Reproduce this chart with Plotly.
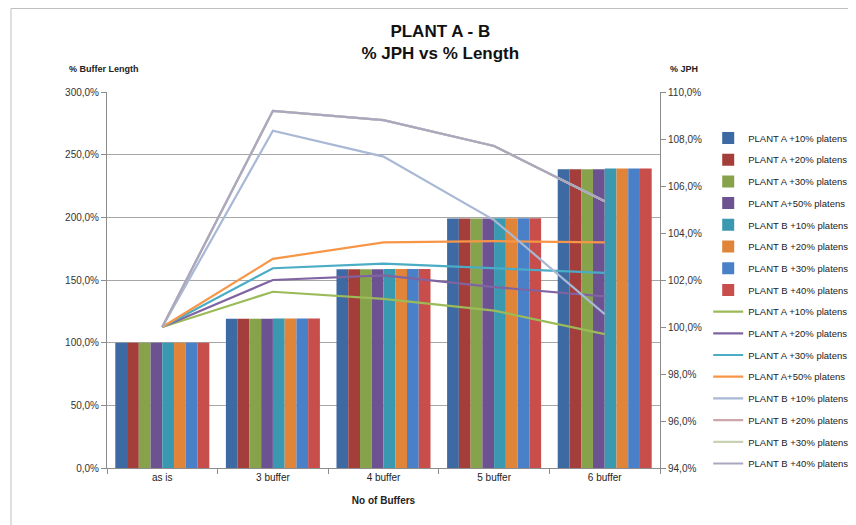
import plotly.graph_objects as go

categories = ["as is", "3 buffer", "4 buffer", "5 buffer", "6 buffer"]

bar_names = ["PLANT A +10% platens", "PLANT A +20% platens", "PLANT A +30% platens",
             "PLANT A+50% platens", "PLANT B +10% platens", "PLANT B +20% platens",
             "PLANT B +30% platens", "PLANT B +40% platens"]
bar_colors = ["#3D6AA2", "#A33E3B", "#86A34B", "#6C5290", "#3A98B0", "#E0843A", "#4A80C8", "#C84E4C"]
bar_plant_a = [100.0, 119.0, 158.5, 199.0, 238.3]
bar_plant_b = [100.0, 119.3, 158.8, 199.3, 239.0]

line_names = ["PLANT A +10% platens", "PLANT A +20% platens", "PLANT A +30% platens",
              "PLANT A+50% platens", "PLANT B +10% platens", "PLANT B +20% platens",
              "PLANT B +30% platens", "PLANT B +40% platens"]
line_colors = ["#9BBB59", "#8064A2", "#4BACC6", "#F79646", "#A8B8D5", "#CDA6AC", "#C8D2B2", "#AAA8C0"]
jph_a10 = [100.0, 101.5, 101.2, 100.7, 99.7]
jph_a20 = [100.0, 102.0, 102.2, 101.7, 101.3]
jph_a30 = [100.0, 102.5, 102.7, 102.5, 102.3]
jph_a50 = [100.0, 102.9, 103.6, 103.65, 103.6]
jph_b10 = [100.0, 108.35, 107.25, 104.55, 100.55]
jph_b20 = [100.0, 109.2, 108.8, 107.7, 105.35]
jph_b30 = [100.0, 109.2, 108.8, 107.7, 105.35]
jph_b40 = [100.0, 109.2, 108.8, 107.7, 105.35]
line_values = [jph_a10, jph_a20, jph_a30, jph_a50, jph_b10, jph_b20, jph_b30, jph_b40]

left_ticks = [0, 50, 100, 150, 200, 250, 300]
left_labels = ["0,0%", "50,0%", "100,0%", "150,0%", "200,0%", "250,0%", "300,0%"]
right_ticks = [94, 96, 98, 100, 102, 104, 106, 108, 110]
right_labels = ["94,0%", "96,0%", "98,0%", "100,0%", "102,0%", "104,0%", "106,0%", "108,0%", "110,0%"]

FONT = "Liberation Sans"
fig = go.Figure()

for i, (name, col) in enumerate(zip(bar_names, bar_colors)):
    vals = bar_plant_a if i < 4 else bar_plant_b
    fig.add_trace(go.Bar(x=categories, y=vals, name=name, marker=dict(color=col, line=dict(width=0)),
                         legendgroup="g%02d" % i, yaxis="y"))

for i, (name, col, vals) in enumerate(zip(line_names, line_colors, line_values)):
    fig.add_trace(go.Scatter(x=categories, y=vals, name=name, mode="lines",
                             line=dict(color=col, width=2.2), legendgroup="g%02d" % (i + 8), yaxis="y2"))

axis_col = "#8C8C8C"
fig.update_layout(
    width=856, height=525,
    margin=dict(l=99, r=204, t=84, b=65, autoexpand=False),
    paper_bgcolor="white", plot_bgcolor="white",
    font=dict(family=FONT, size=10, color="#222222"),
    barmode="group", bargap=0.15, bargroupgap=0,
    title=dict(text="<b>PLANT A - B<br>% JPH vs % Length</b>", x=0.505, xanchor="center", xref="container",
               y=0.945, yanchor="middle", yref="container",
               font=dict(family=FONT, size=17, color="#111111")),
    xaxis=dict(type="category", showline=True, linecolor=axis_col, ticks="outside", tickson="boundaries",
               ticklen=5, tickcolor=axis_col, showgrid=False,
               title=dict(text="<b>No of Buffers</b>", font=dict(size=10), standoff=14),
               tickfont=dict(size=10)),
    yaxis=dict(range=[0, 300], tickvals=left_ticks, ticktext=left_labels, showline=True, linecolor=axis_col,
               ticks="outside", ticklen=5, tickcolor=axis_col, showgrid=True, gridcolor="#A6A6A6",
               gridwidth=1, zeroline=False, tickfont=dict(size=10, color="#333333")),
    yaxis2=dict(range=[94, 110], tickvals=right_ticks, ticktext=right_labels, overlaying="y", side="right",
                showline=True, linecolor=axis_col, ticks="outside", ticklen=5, tickcolor=axis_col,
                showgrid=False, zeroline=False, tickfont=dict(size=10, color="#333333")),
    legend=dict(x=0.818, xanchor="left", xref="container", y=0.780, yanchor="top", yref="container",
                font=dict(size=9.5, color="#222222"), tracegroupgap=2.7, bgcolor="rgba(0,0,0,0)",
                traceorder="grouped", itemwidth=30, maxheight=1.0),
    showlegend=True,
)

fig.add_annotation(text="<b>% Buffer Length</b>", xref="paper", yref="paper", x=-0.072, y=1.06,
                   xanchor="left", yanchor="middle", showarrow=False, font=dict(size=9, color="#222222"))
fig.add_annotation(text="<b>% JPH</b>", xref="paper", yref="paper", x=1.015, y=1.06,
                   xanchor="left", yanchor="middle", showarrow=False, font=dict(size=9, color="#222222"))

# chart area border
fig.add_shape(type="line", xref="paper", yref="paper", x0=-0.1736, x1=-0.1736, y0=-0.17, y1=1.222,
              line=dict(color="#BFBFBF", width=1))
fig.add_shape(type="line", xref="paper", yref="paper", x0=-0.1736, x1=1.4, y0=1.222, y1=1.222,
              line=dict(color="#BFBFBF", width=1))

fig.write_html("out.html")
